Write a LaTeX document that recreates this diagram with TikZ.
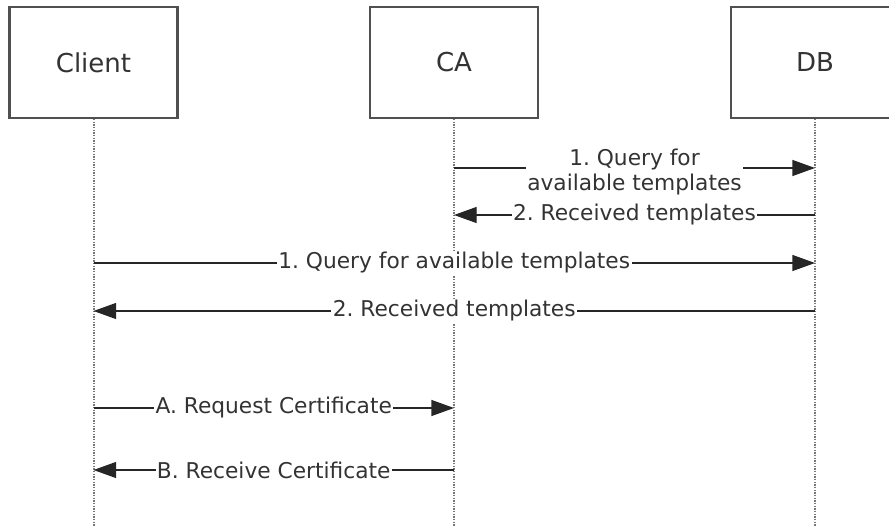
\documentclass[tikz,border=0pt]{standalone}
\usepackage{fontspec}
\setmainfont{DejaVu Sans}
\usetikzlibrary{arrows.meta}
\definecolor{boxline}{HTML}{505050}
\definecolor{txt}{HTML}{333333}
\definecolor{life}{HTML}{777777}
\tikzset{
  actor/.style={draw=boxline, line width=1.6pt, fill=white, minimum width=126pt, minimum height=83pt, inner sep=0pt, font=\fontsize{19.5}{23}\selectfont, text=txt},
  lifeline/.style={draw=life, line width=1.5pt, dash pattern=on 1pt off 1pt},
  msg/.style={draw=black!85, line width=1pt, -{Triangle[length=17pt, width=12pt]}},
  lbl/.style={fill=white, inner xsep=1pt, inner ysep=1pt, font=\fontsize{16.3}{19}\selectfont, text=txt, align=center},
}
\frenchspacing
\begin{document}
\begin{tikzpicture}[x=0.75pt, y=-0.75pt]
\useasboundingbox (0,0) rectangle (889,527);
\clip (0,0) rectangle (889,527);
\node[actor] (client) at (93.5,62.5) {Client};
\node[actor] (ca) at (454,62.5) {CA};
\node[actor] (db) at (815,62.5) {DB};
\coordinate (clientend) at (93.5,527);
\coordinate (caend) at (454,527);
\coordinate (dbend) at (815,527);
\draw[lifeline] (client.south) -- (clientend);
\draw[lifeline] (ca.south) -- (caend);
\draw[lifeline] (db.south) -- (dbend);
% message anchor points
\coordinate (ca1) at (454,168);
\coordinate (db1) at (815,168);
\coordinate (ca2) at (454,215);
\coordinate (db2) at (815,215);
\coordinate (cl3) at (93.5,263);
\coordinate (db3) at (815,263);
\coordinate (cl4) at (93.5,311);
\coordinate (db4) at (815,311);
\coordinate (cl5) at (93.5,408);
\coordinate (ca5) at (454,408);
\coordinate (cl6) at (93.5,470);
\coordinate (ca6) at (454,470);
\draw[msg] (ca1) -- node[lbl, yshift=-3pt] (m1) {1. Query for\\available templates} (db1);
\draw[msg] (db2) -- node[lbl] (m2) {2. Received templates} (ca2);
\draw[msg] (cl3) -- node[lbl] (m3) {1. Query for available templates} (db3);
\draw[msg] (db4) -- node[lbl] (m4) {2. Received templates} (cl4);
\draw[msg] (cl5) -- node[lbl] (m5) {A. Request Certificate} (ca5);
\draw[msg] (ca6) -- node[lbl] (m6) {B. Receive Certificate} (cl6);
\end{tikzpicture}
\end{document}
